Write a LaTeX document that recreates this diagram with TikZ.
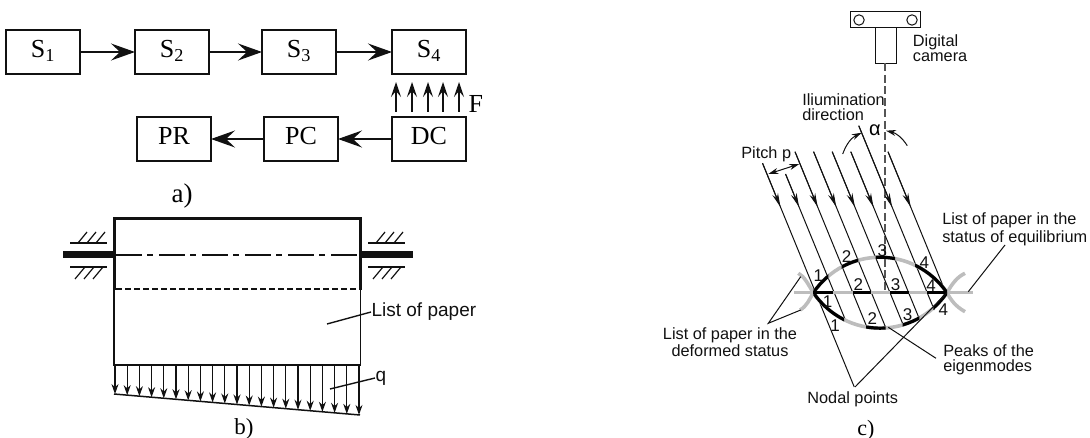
\documentclass[tikz,border=0pt]{standalone}
\usepackage{fontspec}
\setmainfont{Liberation Serif}
\setsansfont{Liberation Sans}
\usetikzlibrary{arrows.meta, positioning, calc}
\definecolor{cgrey}{HTML}{BDBDBD}
\definecolor{cdash}{HTML}{555555}
\definecolor{cink}{HTML}{111111}
\tikzset{
  every picture/.style={line width=1.2pt, x=1pt, y=-1pt},
  block/.style={draw=cink, line width=2pt, minimum width=74pt, minimum height=44pt, inner sep=0pt, outer sep=0pt, text height=17pt, text depth=6pt, font=\fontsize{26}{26}\selectfont},
  flow/.style={-{Stealth[length=24pt, width=17pt, inset=9pt]}, draw=cink, line width=1.8pt},
  force/.style={-{Stealth[length=15pt, width=10pt, inset=6pt]}, draw=cink, line width=1.8pt},
  load/.style={-{Stealth[length=10pt, width=7pt]}, draw=cink, line width=1.2pt},
  ray/.style={draw=cink, line width=1pt},
  raytip/.style={-{Stealth[length=14pt, width=6pt]}, draw=cink, line width=1pt},
  leader/.style={draw=cink, line width=1pt},
  caption/.style={font=\fontsize{27}{27}\selectfont, inner sep=0pt},
  note/.style={font=\sffamily\fontsize{16.3}{15}\selectfont, text=cink, align=left, inner sep=0pt},
  digit/.style={font=\sffamily\fontsize{17}{17}\selectfont, text=cink, inner sep=0pt},
}
\begin{document}
\begin{tikzpicture}
  \useasboundingbox (0,0) rectangle (1090,438);
  % a) block scheme
  \node[block] at (43,52) (s1) {S\textsubscript{1}};
  \node[block, right=55pt of s1] (s2) {S\textsubscript{2}};
  \node[block, right=53pt of s2] (s3) {S\textsubscript{3}};
  \node[block, right=56pt of s3] (s4) {S\textsubscript{4}};
  \node[block, below=43pt of s4] (dc) {DC};
  \node[block, left=54pt of dc] (pc) {PC};
  \node[block, left=53pt of pc] (pr) {PR};
  \foreach \a/\b in {s1/s2, s2/s3, s3/s4, dc/pc, pc/pr}
    \draw[flow] (\a) -- (\b);
  \foreach \x in {-33,-17,-1,14,30}
    \draw[force] ([xshift=\x pt, yshift=5pt]dc.north) -- ([xshift=\x pt, yshift=-8pt]s4.south);
  \node[font=\fontsize{26}{26}\selectfont, anchor=west, inner sep=0pt] at (468,104) (force) {F};
  \node[caption] at (182,196) (capa) {a)};

  % b) list of paper on the shaft
  \draw[line width=1.5pt, draw=cink] (114,289) -- (114,365) -- (360.5,365) -- (360.5,289);
  \draw[line width=3pt, draw=cink] (114,290) -- (114,219) -- (360.5,219) -- (360.5,290);
  \draw[draw=cink, line width=1.2pt, dash pattern=on 6pt off 3pt] (116,289) -- (359,289);
  \draw[draw=cink, line width=1.3pt, dash pattern=on 26pt off 5pt on 6pt off 6pt] (116,255) -- (359,255);
  \fill[cink] (63,251.5) rectangle (114,258.5);
  \fill[cink] (361,251.5) rectangle (413,258.5);
  \foreach \x in {70,368} {
    \draw[draw=cink, line width=1.2pt] (\x,243) -- ++(37,0);
    \draw[draw=cink, line width=1.2pt] (\x,267) -- ++(37,0);
    \foreach \d in {8,17,26} {
      \draw[draw=cink, line width=1.2pt] (\x+\d,243) -- ++(9,-11);
      \draw[draw=cink, line width=1.2pt] (\x+\d-3,279) -- ++(10,-12);
    }
  }
  \foreach \i in {0,...,20} {
    \pgfmathsetmacro{\xa}{115+12.2*\i}
    \pgfmathsetmacro{\ya}{394+(\xa-114)*21/246}
    \draw[load] (\xa,365) -- (\xa,\ya);
  }
  \draw[line width=1.5pt, draw=cink] (114,394) -- (360,415);
  \node[note, font=\sffamily\fontsize{19}{19}\selectfont, anchor=west] at (371,312) (sheet) {List of paper};
  \coordinate (sheetend) at (327,324);
  \draw[leader, line width=1.4pt] (sheetend) -- (sheet.west);
  \node[note, font=\sffamily\fontsize{19}{19}\selectfont, anchor=west] at (375,378) (qload) {q};
  \coordinate (qend) at (330,389);
  \draw[leader, line width=1.4pt] (qend) -- (qload.west);
  \node[caption, font=\fontsize{23}{23}\selectfont] at (244,429) (capb) {b)};

  % c) camera
  \draw[draw=cink, line width=1pt] (850.7,11.7) rectangle (920.7,27.3);
  \draw[draw=cink, line width=1pt] (875.3,27.3) rectangle (896.3,63.3);
  \draw[draw=cink, line width=1pt] (859,20) circle[radius=5.2pt] (912,20) circle[radius=5.2pt];
  \draw[draw=cdash, line width=1.1pt, dash pattern=on 8pt off 3.5pt] (885,63.3) -- (885,292);
  \node[note, anchor=west] at (912.3,47.8) (camera) {Digital\\camera};
  \node[note, anchor=west] at (801.7,107.5) (illum) {Iliumination\\direction};

  % rays: number/upper end/lower end
  \foreach \i/\t/\b in {0/163.3/387, 1/174/320, 2/151.7/327, 3/151.7/328.3, 4/151.7/325, 5/151.7/319.3, 6/125.7/310, 7/151.7/291.7} {
    \pgfmathsetmacro{\xt}{781.7+18.6*\i+0.41*(\t-210)}
    \pgfmathsetmacro{\xb}{781.7+18.6*\i+0.41*(\b-210)}
    \pgfmathsetmacro{\xm}{781.7+18.6*\i+0.41*(207-210)}
    \draw[ray] (\xt,\t) -- (\xb,\b);
    \draw[raytip] (\xt,\t) -- (\xm,207);
  }
  \node[inner sep=0pt, font=\sffamily\fontsize{20}{20}\selectfont] at (875,130) (alpha) {α};
  \draw[raytip, -{Stealth[length=10pt, width=6pt]}] (842.7,154) to[bend left=22] (861.7,132.7);
  \draw[raytip, -{Stealth[length=10pt, width=6pt]}] (907.3,145.7) to[bend right=22] (886,130.7);
  \node[note, anchor=west] at (740.7,154) (pitch) {Pitch p};
  \draw[raytip, {Stealth[length=10pt, width=6pt]}-{Stealth[length=10pt, width=6pt]}] (768.3,174) -- (799.3,164);

  % c) deformed list
  \coordinate (nl) at (813.3,292.7);
  \coordinate (nr) at (947,292.7);
  \draw[draw=cgrey, line width=3.6pt] (794,292.7) -- (972.7,292.7);
  \draw[draw=cgrey, line width=3.6pt] (800,310) .. controls (807,306) and (809,300) .. (nl) .. controls (846,245.4) and (914,245.4) .. (nr) .. controls (951,300) and (955,306) .. (965,311.7);
  \draw[draw=cgrey, line width=3.6pt] (798.3,273.3) .. controls (804,276) and (808,284) .. (nl) .. controls (846,340) and (914,340) .. (nr) .. controls (952,284) and (957,277) .. (965,273.3);
  \foreach \a/\b in {813.3/833.3, 852.7/871.3, 890/908.7, 927.3/946.7}
    \draw[draw=black, line width=3.2pt] (\a,292.7) -- (\b,292.7);
  \foreach \a/\b in {813.3/828.3, 841.7/858.3, 875.7/895, 915/947} {
    \begin{scope}
      \clip (\a,200) rectangle (\b,292.7);
      \draw[draw=black, line width=3.2pt] (nl) .. controls (846,245.4) and (914,245.4) .. (nr);
    \end{scope}
  }
  \foreach \a/\b in {813.3/844, 866/885.7, 902.7/919.3, 933.3/947} {
    \begin{scope}
      \clip (\a,292.7) rectangle (\b,350);
      \draw[draw=black, line width=3.2pt] (nl) .. controls (846,340) and (914,340) .. (nr);
    \end{scope}
  }
  \foreach \x/\y/\n in {818.3/276/1, 846.7/256.7/2, 882.3/250.7/3, 924.3/262.3/4,
      827.7/301.7/1, 858.3/285/2, 895.7/285/3, 931/286/4,
      835/325.7/1, 872.3/319/2, 907.7/314.3/3, 943.3/310/4}
    \node[digit] at (\x,\y) {\n};

  % c) labels and leaders
  \node[note, anchor=west, font=\sffamily\fontsize{16.3}{18}\selectfont] at (941.7,229) (equil) {List of paper in the\\status of equilibrium};
  \node[note, align=center, anchor=center, font=\sffamily\fontsize{16.3}{17.5}\selectfont] at (730,342) (deform) {List of paper in the\\deformed status};
  \node[note, anchor=west] at (942.7,360) (peaks) {Peaks of the\\eigenmodes};
  \node[note] at (852.7,399.3) (nodal) {Nodal points};
  \coordinate (equilend) at (968.3,291.7);
  \coordinate (equilstart) at (1005,245);
  \draw[leader] (equilend) -- (equilstart);
  \coordinate (defapex) at (768.3,323.3);
  \draw[leader] (800.7,276.7) -- (defapex) -- (800.7,310);
  \coordinate (peakend) at (888.3,327.3);
  \coordinate (peakstart) at (936,358.3);
  \draw[leader] (peakend) -- (peakstart);
  \coordinate (nodalapex) at (855,387);
  \draw[leader] (nodalapex) -- (nr);
  \node[caption, font=\fontsize{22}{22}\selectfont] at (866,430) (capc) {c)};
\end{tikzpicture}
\end{document}
